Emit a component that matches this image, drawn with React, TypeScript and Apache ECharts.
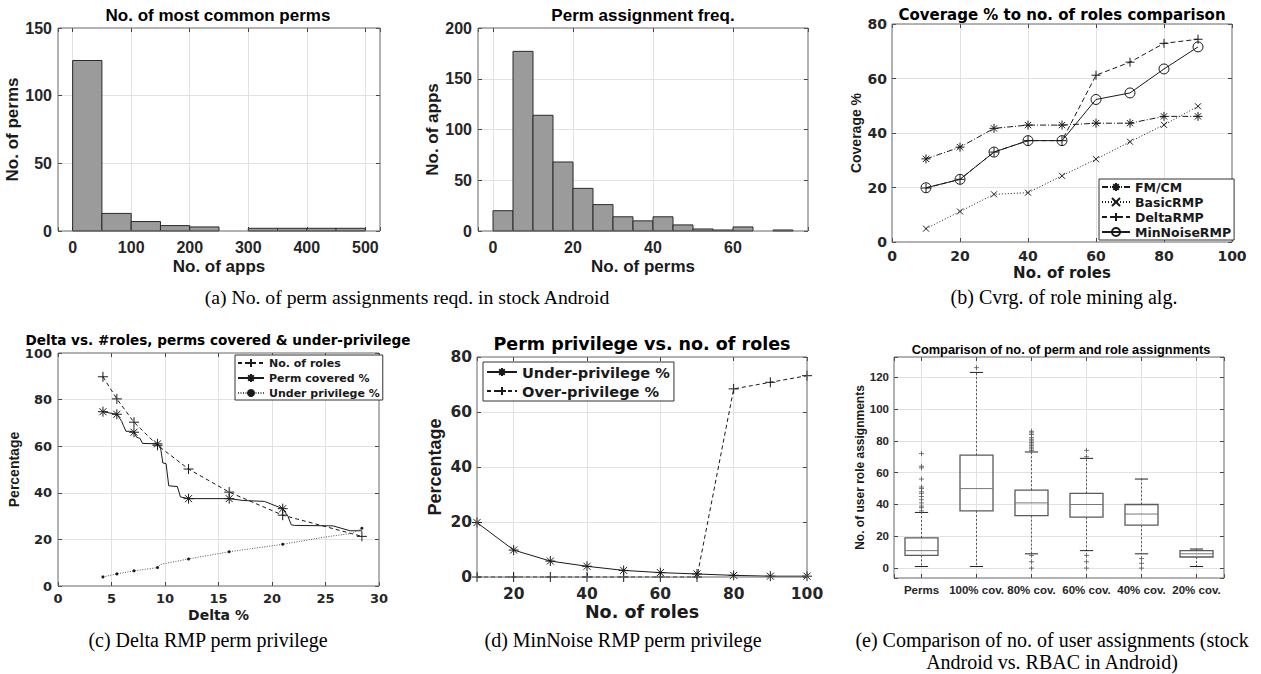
import React, { useEffect, useRef } from "react";
import * as echarts from "echarts";

const SANS = "Liberation Sans";
const WIDE = "DejaVu Sans";
const SERIF = "Liberation Serif";
const INK = "#1a1a1a";
const TICK_INK = "#262626";
const GRID_LINE = "#e2e2e2";
const FRAME = "#666666";
const BAR_FILL = "#9b9b9b";

// ---------- (a) left: No. of most common perms ----------
const appsBinEdges = [0, 50, 100, 150, 200, 250, 300, 350, 400, 450, 500];
const permsPerAppsBin = [126, 13, 7, 4, 3, 0, 2, 2, 2, 2];

// ---------- (a) right: Perm assignment freq. ----------
const permBinEdges = [0, 5, 10, 15, 20, 25, 30, 35, 40, 45, 50, 55, 60, 65, 70, 75];
const appsPerPermBin = [20, 177, 114, 68, 42, 26, 14, 10, 14, 6, 2, 1, 4, 0, 1];

// ---------- (b) Coverage % vs no. of roles ----------
const roleCountsB = [10, 20, 30, 40, 50, 60, 70, 80, 90];
const fmcmCoverage = [30.5, 34.8, 41.7, 42.9, 42.9, 43.6, 43.6, 46.1, 46.1];
const basicRmpCoverage = [4.9, 11.2, 17.5, 18.1, 24.3, 30.4, 36.8, 43.0, 49.8];
const deltaRmpCoverage = [19.8, 23.0, 33.0, 37.2, 37.2, 61.2, 66.0, 72.9, 74.4];
const minNoiseRmpCoverage = [19.9, 23.0, 33.0, 37.2, 37.2, 52.3, 54.7, 63.5, 71.6];

// ---------- (c) Delta RMP ----------
const rolesDelta = [4.2, 5.5, 7.1, 9.3, 12.2, 16.0, 21.0, 28.4];
const rolesPct = [89.8, 80.3, 70.3, 60.4, 50.2, 40.3, 30.4, 21.3];
const permCoveredDelta = [4.2, 5.5, 5.95, 6.1, 6.35, 6.7, 7.1, 7.35, 7.65, 7.9, 9.3, 9.6, 9.8, 10.1, 10.35, 11.15, 11.45, 12.2, 16.0, 17.3, 19.3, 21.0, 21.5, 21.8, 22.1, 25.7, 27.3, 28.4];
const permCoveredPct = [74.8, 73.7, 70.7, 69.0, 66.4, 66.4, 66.0, 63.8, 63.4, 61.2, 61.0, 58.8, 52.8, 52.5, 43.0, 42.7, 38.2, 37.5, 37.5, 36.7, 36.3, 33.2, 29.8, 26.3, 26.0, 25.8, 23.7, 23.7];
const permCoveredMarked = [0, 1, 6, 10, 17, 18, 21];
const underDelta = [4.2, 5.5, 7.1, 9.3, 9.6, 12.2, 16.0, 21.0, 25.2, 27.5, 28.4];
const underPct = [3.9, 5.2, 6.5, 7.9, 9.3, 11.6, 14.7, 17.9, 21.2, 22.6, 24.8];
const underMarked = [0, 1, 2, 3, 5, 6, 7, 10];

// ---------- (d) MinNoise RMP ----------
const roleCountsD = [10, 20, 30, 40, 50, 60, 70, 80, 90, 100];
const underPrivD = [19.8, 9.8, 5.8, 3.9, 2.4, 1.6, 1.1, 0.6, 0.3, 0.3];
const overPrivD = [0, 0, 0, 0, 0, 0, 0, 68.4, 70.8, 73.2];

// ---------- (e) Box plot ----------
const boxCategories = ["Perms", "100% cov.", "80% cov.", "60% cov.", "40% cov.", "20% cov."];
const boxLow = [1, 1, 9, 11, 9, 1];
const boxQ1 = [8, 36, 33, 32, 27, 7];
const boxMedian = [11, 50, 41, 40, 34, 9];
const boxQ3 = [19, 71, 49, 47, 40, 11];
const boxHigh = [35, 123, 73, 69, 56, 12];
const permsOutliers = [36, 38, 39, 41, 43, 45, 47, 48, 50, 51, 56, 63, 64, 72];
const cov100Outliers = [126];
const cov80Outliers = [0, 4, 8, 74, 75, 76, 77, 78, 79, 80, 81, 82, 84, 85, 86];
const cov60Outliers = [0, 4, 8, 70, 74];
const cov40Outliers = [0, 3, 6];
const cov20Outliers: number[] = [];
const boxOutliers = [permsOutliers, cov100Outliers, cov80Outliers, cov60Outliers, cov40Outliers, cov20Outliers];

// ---------- symbols ----------
const SYM_STAR = "path://M0,-5L0,5M-5,0L5,0M-3.5,-3.5L3.5,3.5M-3.5,3.5L3.5,-3.5";
const SYM_PLUS = "path://M0,-5L0,5M-5,0L5,0";
const SYM_X = "path://M-4,-4L4,4M-4,4L4,-4";
const SYM_O = "path://M5,0A5,5,0,1,1,-5,0A5,5,0,1,1,5,0Z";

function buildOption() {
  const grids = [
    { left: 58, top: 28, width: 322, height: 203 },
    { left: 478, top: 28, width: 330, height: 203 },
    { left: 892, top: 24, width: 340, height: 218 },
    { left: 58, top: 353, width: 321, height: 233 },
    { left: 477, top: 357, width: 330, height: 220 },
    { left: 894, top: 357, width: 330, height: 221 },
  ].map((g) => ({ ...g, show: true, z: 10, backgroundColor: "transparent", borderColor: FRAME, borderWidth: 1 }));

  const xAxes: any[] = [];
  const yAxes: any[] = [];

  const tickStyle = { inside: true, length: 4, lineStyle: { color: "#444", width: 1 } };
  const split = { show: true, showMinLine: false, showMaxLine: false, lineStyle: { color: GRID_LINE, width: 1 } };
  const noLine = { show: false, onZero: false };

  function mainAxis(cfg: any, font: string, size: number) {
    return {
      type: "value",
      axisLine: noLine,
      axisTick: tickStyle,
      splitLine: split,
      nameLocation: "middle",
      ...cfg,
      axisLabel: { color: TICK_INK, fontFamily: font, fontSize: size, fontWeight: "bold", ...(cfg.axisLabel || {}) },
      nameTextStyle: { color: INK, fontWeight: "bold", ...(cfg.nameTextStyle || {}) },
    };
  }
  function mirror(cfg: any, gridIndex: number, position: string) {
    return {
      type: "value",
      gridIndex,
      position,
      min: cfg.min,
      max: cfg.max,
      interval: cfg.interval,
      splitNumber: cfg.splitNumber,
      axisLine: noLine,
      axisLabel: { show: false },
      splitLine: { show: false },
      axisTick: tickStyle,
    };
  }
  function addPanel(g: number, x: any, y: any, font: string, size: number) {
    const xi = xAxes.length;
    xAxes.push({ ...mainAxis(x, font, size), gridIndex: g, position: "bottom" });
    xAxes.push(mirror(x, g, "top"));
    const yi = yAxes.length;
    yAxes.push({ ...mainAxis(y, font, size), gridIndex: g, position: "left" });
    yAxes.push(mirror(y, g, "right"));
    return { xAxisIndex: xi, yAxisIndex: yi };
  }

  const pA1 = addPanel(
    0,
    {
      min: -25, max: 525, splitNumber: 5,
      axisLabel: { margin: 8, formatter: (v: number) => (v % 100 === 0 ? String(v) : "") },
      name: "No. of apps", nameGap: 27, nameTextStyle: { fontFamily: SANS, fontSize: 17 },
    },
    {
      min: 0, max: 150, interval: 50,
      axisLabel: { margin: 6 },
      name: "No. of perms", nameGap: 32, nameTextStyle: { fontFamily: SANS, fontSize: 17 },
    },
    SANS, 16
  );
  const pA2 = addPanel(
    1,
    {
      min: -3.75, max: 78.75, splitNumber: 4,
      axisLabel: { margin: 8, formatter: (v: number) => (v % 20 === 0 ? String(v) : "") },
      name: "No. of perms", nameGap: 27, nameTextStyle: { fontFamily: SANS, fontSize: 17 },
    },
    {
      min: 0, max: 200, interval: 50,
      axisLabel: { margin: 6 },
      name: "No. of apps", nameGap: 34, nameTextStyle: { fontFamily: SANS, fontSize: 17 },
    },
    SANS, 16
  );
  const pB = addPanel(
    2,
    {
      min: 0, max: 100, interval: 20,
      axisLabel: { margin: 7 },
      name: "No. of roles", nameGap: 23, nameTextStyle: { fontFamily: WIDE, fontSize: 15 },
    },
    {
      min: 0, max: 80, interval: 20,
      axisLabel: { margin: 5 },
      name: "Coverage %", nameGap: 29, nameTextStyle: { fontFamily: SANS, fontSize: 14 },
    },
    WIDE, 14
  );
  const pC = addPanel(
    3,
    {
      min: 0, max: 30, interval: 5,
      axisLabel: { margin: 6 },
      name: "Delta %", nameGap: 22, nameTextStyle: { fontFamily: WIDE, fontSize: 14 },
    },
    {
      min: 0, max: 100, interval: 20,
      axisLabel: { margin: 6, lineHeight: 12 },
      name: "Percentage", nameGap: 33, nameTextStyle: { fontFamily: SANS, fontSize: 14 },
    },
    WIDE, 13
  );
  const pD = addPanel(
    4,
    {
      min: 10, max: 100, splitNumber: 4,
      axisLabel: { margin: 9, formatter: (v: number) => (v % 20 === 0 ? String(v) : "") },
      name: "No. of roles", nameGap: 26, nameTextStyle: { fontFamily: WIDE, fontSize: 17.5 },
    },
    {
      min: 0, max: 80, interval: 20,
      axisLabel: { margin: 5 },
      name: "Percentage", nameGap: 33, nameTextStyle: { fontFamily: SANS, fontSize: 18 },
    },
    WIDE, 15.5
  );
  const pE = addPanel(
    5,
    {
      min: -0.5, max: 5.5, splitNumber: 6,
      axisLabel: {
        margin: 6,
        formatter: (v: number) => (Number.isInteger(v) && boxCategories[v] ? boxCategories[v] : ""),
      },
    },
    {
      min: -6.2, max: 132.7, splitNumber: 7,
      axisLabel: { margin: 5, formatter: (v: number) => (v % 20 === 0 ? String(v) : "") },
      name: "No. of user role assignments", nameGap: 27, nameTextStyle: { fontFamily: SANS, fontSize: 12 },
    },
    SANS, 11.5
  );

  const histRender = (params: any, api: any) => {
    const count = api.value(2);
    if (!count) return null;
    const p0 = api.coord([api.value(0), count]);
    const p1 = api.coord([api.value(1), 0]);
    return {
      type: "rect",
      shape: { x: p0[0], y: p0[1], width: p1[0] - p0[0], height: p1[1] - p0[1] },
      style: { fill: BAR_FILL, stroke: "#2a2a2a", lineWidth: 1 },
    };
  };

  const lineBase = (name: string, axes: any, data: any[], symbol: string, size: number, dash: any) => ({
    type: "line",
    name,
    ...axes,
    data,
    symbol,
    symbolSize: size,
    clip: false,
    z: 3,
    lineStyle: { color: INK, width: 1, type: dash },
    itemStyle: { color: "rgba(0,0,0,0)", borderColor: INK, borderWidth: 1 },
  });

  const series: any[] = [
    {
      type: "custom",
      name: "permsHist",
      ...pA1,
      renderItem: histRender,
      encode: { x: [0, 1], y: 2 },
      data: permsPerAppsBin.map((c, i) => [appsBinEdges[i], appsBinEdges[i + 1], c]),
    },
    {
      type: "custom",
      name: "appsHist",
      ...pA2,
      renderItem: histRender,
      encode: { x: [0, 1], y: 2 },
      data: appsPerPermBin.map((c, i) => [permBinEdges[i], permBinEdges[i + 1], c]),
    },
    lineBase("FM/CM", pB, roleCountsB.map((x, i) => [x, fmcmCoverage[i]]), SYM_STAR, 9, [6, 2, 1, 2]),
    lineBase("BasicRMP", pB, roleCountsB.map((x, i) => [x, basicRmpCoverage[i]]), SYM_X, 6, [1, 2]),
    lineBase("DeltaRMP", pB, roleCountsB.map((x, i) => [x, deltaRmpCoverage[i]]), SYM_PLUS, 9, [5, 3]),
    lineBase("MinNoiseRMP", pB, roleCountsB.map((x, i) => [x, minNoiseRmpCoverage[i]]), SYM_O, 10, "solid"),
    lineBase("No. of roles", pC, rolesDelta.map((x, i) => [x, rolesPct[i]]), SYM_PLUS, 10, [4, 3]),
    lineBase(
      "Perm covered %",
      pC,
      permCoveredDelta.map((x, i) =>
        permCoveredMarked.indexOf(i) >= 0 ? { value: [x, permCoveredPct[i]] } : { value: [x, permCoveredPct[i]], symbol: "none" }
      ),
      SYM_STAR,
      10,
      "solid"
    ),
    {
      ...lineBase(
        "Under privilege %",
        pC,
        underDelta.map((x, i) =>
          underMarked.indexOf(i) >= 0 ? { value: [x, underPct[i]] } : { value: [x, underPct[i]], symbol: "none" }
        ),
        "circle",
        3,
        [1, 1.5]
      ),
      itemStyle: { color: INK },
      lineStyle: { color: "#555", width: 1, type: [1, 1.5] },
    },
    lineBase("Under-privilege %", pD, roleCountsD.map((x, i) => [x, underPrivD[i]]), SYM_STAR, 10, "solid"),
    lineBase("Over-privilege %", pD, roleCountsD.map((x, i) => [x, overPrivD[i]]), SYM_PLUS, 10, [4, 3]),
    {
      type: "custom",
      name: "boxes",
      ...pE,
      encode: { x: 0, y: [1, 2, 3, 4, 5] },
      data: boxCategories.map((_, i) => [i, boxLow[i], boxQ1[i], boxMedian[i], boxQ3[i], boxHigh[i]]),
      renderItem: (params: any, api: any) => {
        const x = api.value(0);
        const lo = api.coord([x, api.value(1)]);
        const q1 = api.coord([x, api.value(2)]);
        const med = api.coord([x, api.value(3)]);
        const q3 = api.coord([x, api.value(4)]);
        const hi = api.coord([x, api.value(5)]);
        const unit = api.size([1, 0])[0];
        const bw = unit * 0.6;
        const cw = unit * 0.24;
        const cx = lo[0];
        const whisk = { stroke: "#555", lineWidth: 1, lineDash: [2, 2] };
        const cap = { stroke: "#222", lineWidth: 1 };
        return {
          type: "group",
          children: [
            { type: "line", shape: { x1: cx, y1: q1[1], x2: cx, y2: lo[1] }, style: whisk },
            { type: "line", shape: { x1: cx, y1: q3[1], x2: cx, y2: hi[1] }, style: whisk },
            { type: "line", shape: { x1: cx - cw / 2, y1: lo[1], x2: cx + cw / 2, y2: lo[1] }, style: cap },
            { type: "line", shape: { x1: cx - cw / 2, y1: hi[1], x2: cx + cw / 2, y2: hi[1] }, style: cap },
            {
              type: "rect",
              shape: { x: cx - bw / 2, y: q3[1], width: bw, height: q1[1] - q3[1] },
              style: { fill: "none", stroke: "#5a5a5a", lineWidth: 1.3 },
            },
            {
              type: "line",
              shape: { x1: cx - bw / 2, y1: med[1], x2: cx + bw / 2, y2: med[1] },
              style: { stroke: "#777", lineWidth: 1 },
            },
          ],
        };
      },
    },
    {
      type: "scatter",
      name: "outliers",
      ...pE,
      symbol: SYM_PLUS,
      symbolSize: 5,
      itemStyle: { color: "rgba(0,0,0,0)", borderColor: "#555", borderWidth: 1 },
      data: boxOutliers.flatMap((vals, i) => vals.map((v) => [i, v])),
    },
  ];

  const legendText = (font: string, size: number, lh: number) => ({
    color: INK,
    fontFamily: font,
    fontSize: size,
    fontWeight: "bold",
    lineHeight: lh,
  });
  const legendBox = { backgroundColor: "#fff", borderColor: "#333", borderWidth: 1, orient: "vertical", z: 12 };

  const legend = [
    {
      ...legendBox,
      data: ["FM/CM", "BasicRMP", "DeltaRMP", "MinNoiseRMP"],
      left: 1099,
      top: 179,
      padding: [1, 3, 1, 2],
      itemWidth: 28,
      itemHeight: 10,
      itemGap: 1,
      textStyle: legendText(WIDE, 12.5, 14),
    },
    {
      ...legendBox,
      data: ["No. of roles", "Perm covered %", "Under privilege %"],
      left: 235,
      top: 355,
      padding: [1, 3, 0, 2],
      itemWidth: 26,
      itemHeight: 10,
      itemGap: 1,
      textStyle: legendText(WIDE, 11, 14),
    },
    {
      ...legendBox,
      data: ["Under-privilege %", "Over-privilege %"],
      left: 483,
      top: 362,
      padding: [1, 4, 1, 3],
      itemWidth: 30,
      itemHeight: 10,
      itemGap: 1,
      textStyle: legendText(WIDE, 14.6, 18),
    },
  ];

  const txt = (text: string, x: number, y: number, font: string, size: number, bold: boolean) => ({
    type: "text",
    x,
    y,
    z: 20,
    style: {
      text,
      fill: "#000",
      fontFamily: font,
      fontSize: size,
      fontWeight: bold ? "bold" : "normal",
      lineHeight: Math.round(size),
      textAlign: "center",
      textVerticalAlign: "middle",
    },
  });

  const graphic = [
    txt("No. of most common perms", 218, 15, SANS, 17, true),
    txt("Perm assignment freq.", 643, 15, SANS, 17, true),
    txt("Coverage % to no. of roles comparison", 1062, 15, WIDE, 15, true),
    txt("Delta vs. #roles, perms covered & under-privilege", 218, 340, WIDE, 13.6, true),
    txt("Perm privilege vs. no. of roles", 642, 344, WIDE, 17.5, true),
    txt("Comparison of no. of perm and role assignments", 1061, 349, SANS, 12.8, true),
    txt("(a) No. of perm assignments reqd. in stock Android", 407, 297, SERIF, 19.7, false),
    txt("(b) Cvrg. of role mining alg.", 1064, 297, SERIF, 20, false),
    txt("(c) Delta RMP perm privilege", 208, 640, SERIF, 20, false),
    txt("(d) MinNoise RMP perm privilege", 623, 640, SERIF, 20, false),
    txt("(e) Comparison of no. of user assignments (stock", 1052, 640, SERIF, 20, false),
    txt("Android vs. RBAC in Android)", 1052, 662, SERIF, 20, false),
  ];

  return {
    animation: false,
    backgroundColor: "#fff",
    grid: grids,
    xAxis: xAxes,
    yAxis: yAxes,
    legend,
    series,
    graphic,
  };
}

export default function App() {
  const ref = useRef<HTMLDivElement>(null);
  useEffect(() => {
    document.body.style.margin = "0";
    const chart = echarts.init(ref.current as HTMLDivElement, null, { renderer: "svg", width: 1261, height: 674 });
    chart.setOption(buildOption() as any);
    return () => chart.dispose();
  }, []);
  return (
    <div
      ref={ref}
      style={{ position: "absolute", left: 0, top: 0, width: 1261, height: 674, background: "#fff" }}
    />
  );
}
